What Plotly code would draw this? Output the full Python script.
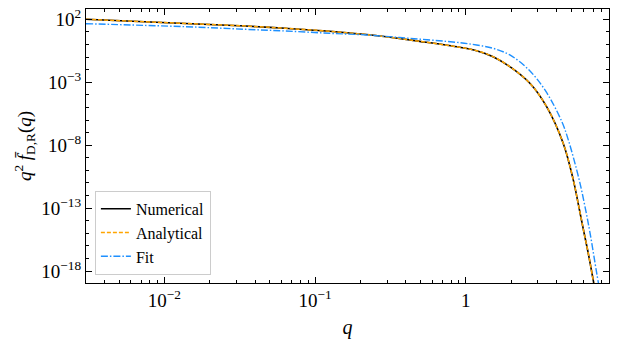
import plotly.graph_objects as go

# ---- data ----
q_numerical = [3.02e-3, 1.38e-2, 3.45e-2, 6.37e-2, 0.125, 0.269, 0.494, 0.912, 1.178,
               1.517, 1.959, 2.661, 3.436, 4.426, 5.164, 5.572, 6.012, 6.501, 7.015, 7.413]
v_numerical = [100.0, 46.5, 29.4, 19.3, 11.2, 4.73, 1.78, 0.60, 0.322,
               0.108, 1.73e-2, 8.3e-4, 1.16e-5, 1.44e-8, 1.76e-11, 2.19e-13, 2.28e-15,
               2.36e-17, 1.70e-19, 4.6e-21]

q_analytical = [3.02e-3, 1.38e-2, 3.45e-2, 6.37e-2, 0.125, 0.269, 0.494, 0.912, 1.178,
                1.517, 1.959, 2.661, 3.436, 4.426, 5.164, 5.572, 6.012, 6.501, 7.015, 7.413]
v_analytical = [100.0, 46.5, 29.4, 19.3, 11.2, 4.73, 1.78, 0.60, 0.322,
                0.108, 1.73e-2, 8.3e-4, 1.16e-5, 1.44e-8, 1.76e-11, 2.19e-13, 2.28e-15,
                2.36e-17, 1.70e-19, 4.6e-21]

q_fit = [3.02e-3, 1.38e-2, 3.45e-2, 6.37e-2, 0.125, 0.220, 0.364, 0.912, 1.178,
         1.517, 1.959, 2.582, 3.350, 4.345, 4.786, 5.224, 5.715, 6.180, 6.668, 7.379, 7.762]
v_fit = [44.8, 25.9, 16.1, 11.8, 7.74, 5.68, 3.60, 1.39, 0.912,
         0.499, 0.147, 1.14e-2, 2.45e-4, 7.06e-7, 2.64e-8, 6.81e-10, 1.02e-11,
         1.27e-13, 1.10e-15, 7.33e-19, 2.28e-20]

series_names = ["Numerical", "Analytical", "Fit"]

x_tick_vals = [1e-2, 1e-1, 1]
x_tick_text = ["10<sup>−2</sup>", "10<sup>−1</sup>", "1"]
y_tick_vals = [1e2, 1e-3, 1e-8, 1e-13, 1e-18]
y_tick_text = ["10<sup>2</sup>", "10<sup>−3</sup>", "10<sup>−8</sup>",
               "10<sup>−13</sup>", "10<sup>−18</sup>"]

x_minor = [k * 10.0 ** n for n in range(-3, 1) for k in range(2, 10)]
y_minor = [10.0 ** n for n in range(-20, 3) if n not in (2, -3, -8, -13, -18)]

FONT = "Liberation Serif"

fig = go.Figure()
fig.add_trace(go.Scatter(x=q_numerical, y=v_numerical, mode="lines", name=series_names[0],
                         line=dict(color="black", width=1.6, shape="spline", smoothing=1.0)))
fig.add_trace(go.Scatter(x=q_analytical, y=v_analytical, mode="lines", name=series_names[1],
                         line=dict(color="#FFA500", width=1.5, dash="4px,2px",
                                   shape="spline", smoothing=1.0)))
fig.add_trace(go.Scatter(x=q_fit, y=v_fit, mode="lines", name=series_names[2],
                         line=dict(color="#1E90FF", width=1.4, dash="7px,2px,1.5px,2px",
                                   shape="spline", smoothing=1.0)))

axis_common = dict(
    type="log", showgrid=False, zeroline=False, showline=True, linecolor="black",
    linewidth=1.2, mirror="allticks", ticks="inside", ticklen=6, tickwidth=1,
    tickcolor="black", tickfont=dict(family=FONT, size=19, color="black"),
    automargin=False,
)

fig.update_xaxes(
    **axis_common, range=[-2.52, 0.95], tickmode="array", tickvals=x_tick_vals,
    ticktext=x_tick_text,
    minor=dict(tickmode="array", tickvals=x_minor, ticks="inside", ticklen=3,
               tickcolor="black", tickwidth=0.8),
    title=dict(text="<i>q</i>", font=dict(family=FONT, size=20, color="black"), standoff=10),
)
fig.update_yaxes(
    **axis_common, range=[-18.95, 2.82], tickmode="array", tickvals=y_tick_vals,
    ticktext=y_tick_text,
    minor=dict(tickmode="array", tickvals=y_minor, ticks="inside", ticklen=3,
               tickcolor="black", tickwidth=0.8),
    title=dict(text="<i>q</i><sup>2</sup> <i>f\u0304</i><sub>D,R</sub>(<i>q</i>)",
               font=dict(family=FONT, size=19, color="black"), standoff=4),
)

fig.update_layout(
    width=618, height=342,
    margin=dict(l=86, r=9, t=9, b=59),
    paper_bgcolor="white", plot_bgcolor="white",
    font=dict(family=FONT, color="black"),
    legend=dict(x=0.017, y=0.03, xanchor="left", yanchor="bottom",
                bgcolor="rgba(255,255,255,0.9)", bordercolor="#cccccc", borderwidth=1,
                font=dict(family=FONT, size=16, color="black"),
                itemwidth=30, tracegroupgap=0),
    showlegend=True,
)

fig.write_html(
    "out.html",
    config={"displayModeBar": False},
    post_script="document.body.style.margin='0';document.body.style.overflow='hidden';",
)
